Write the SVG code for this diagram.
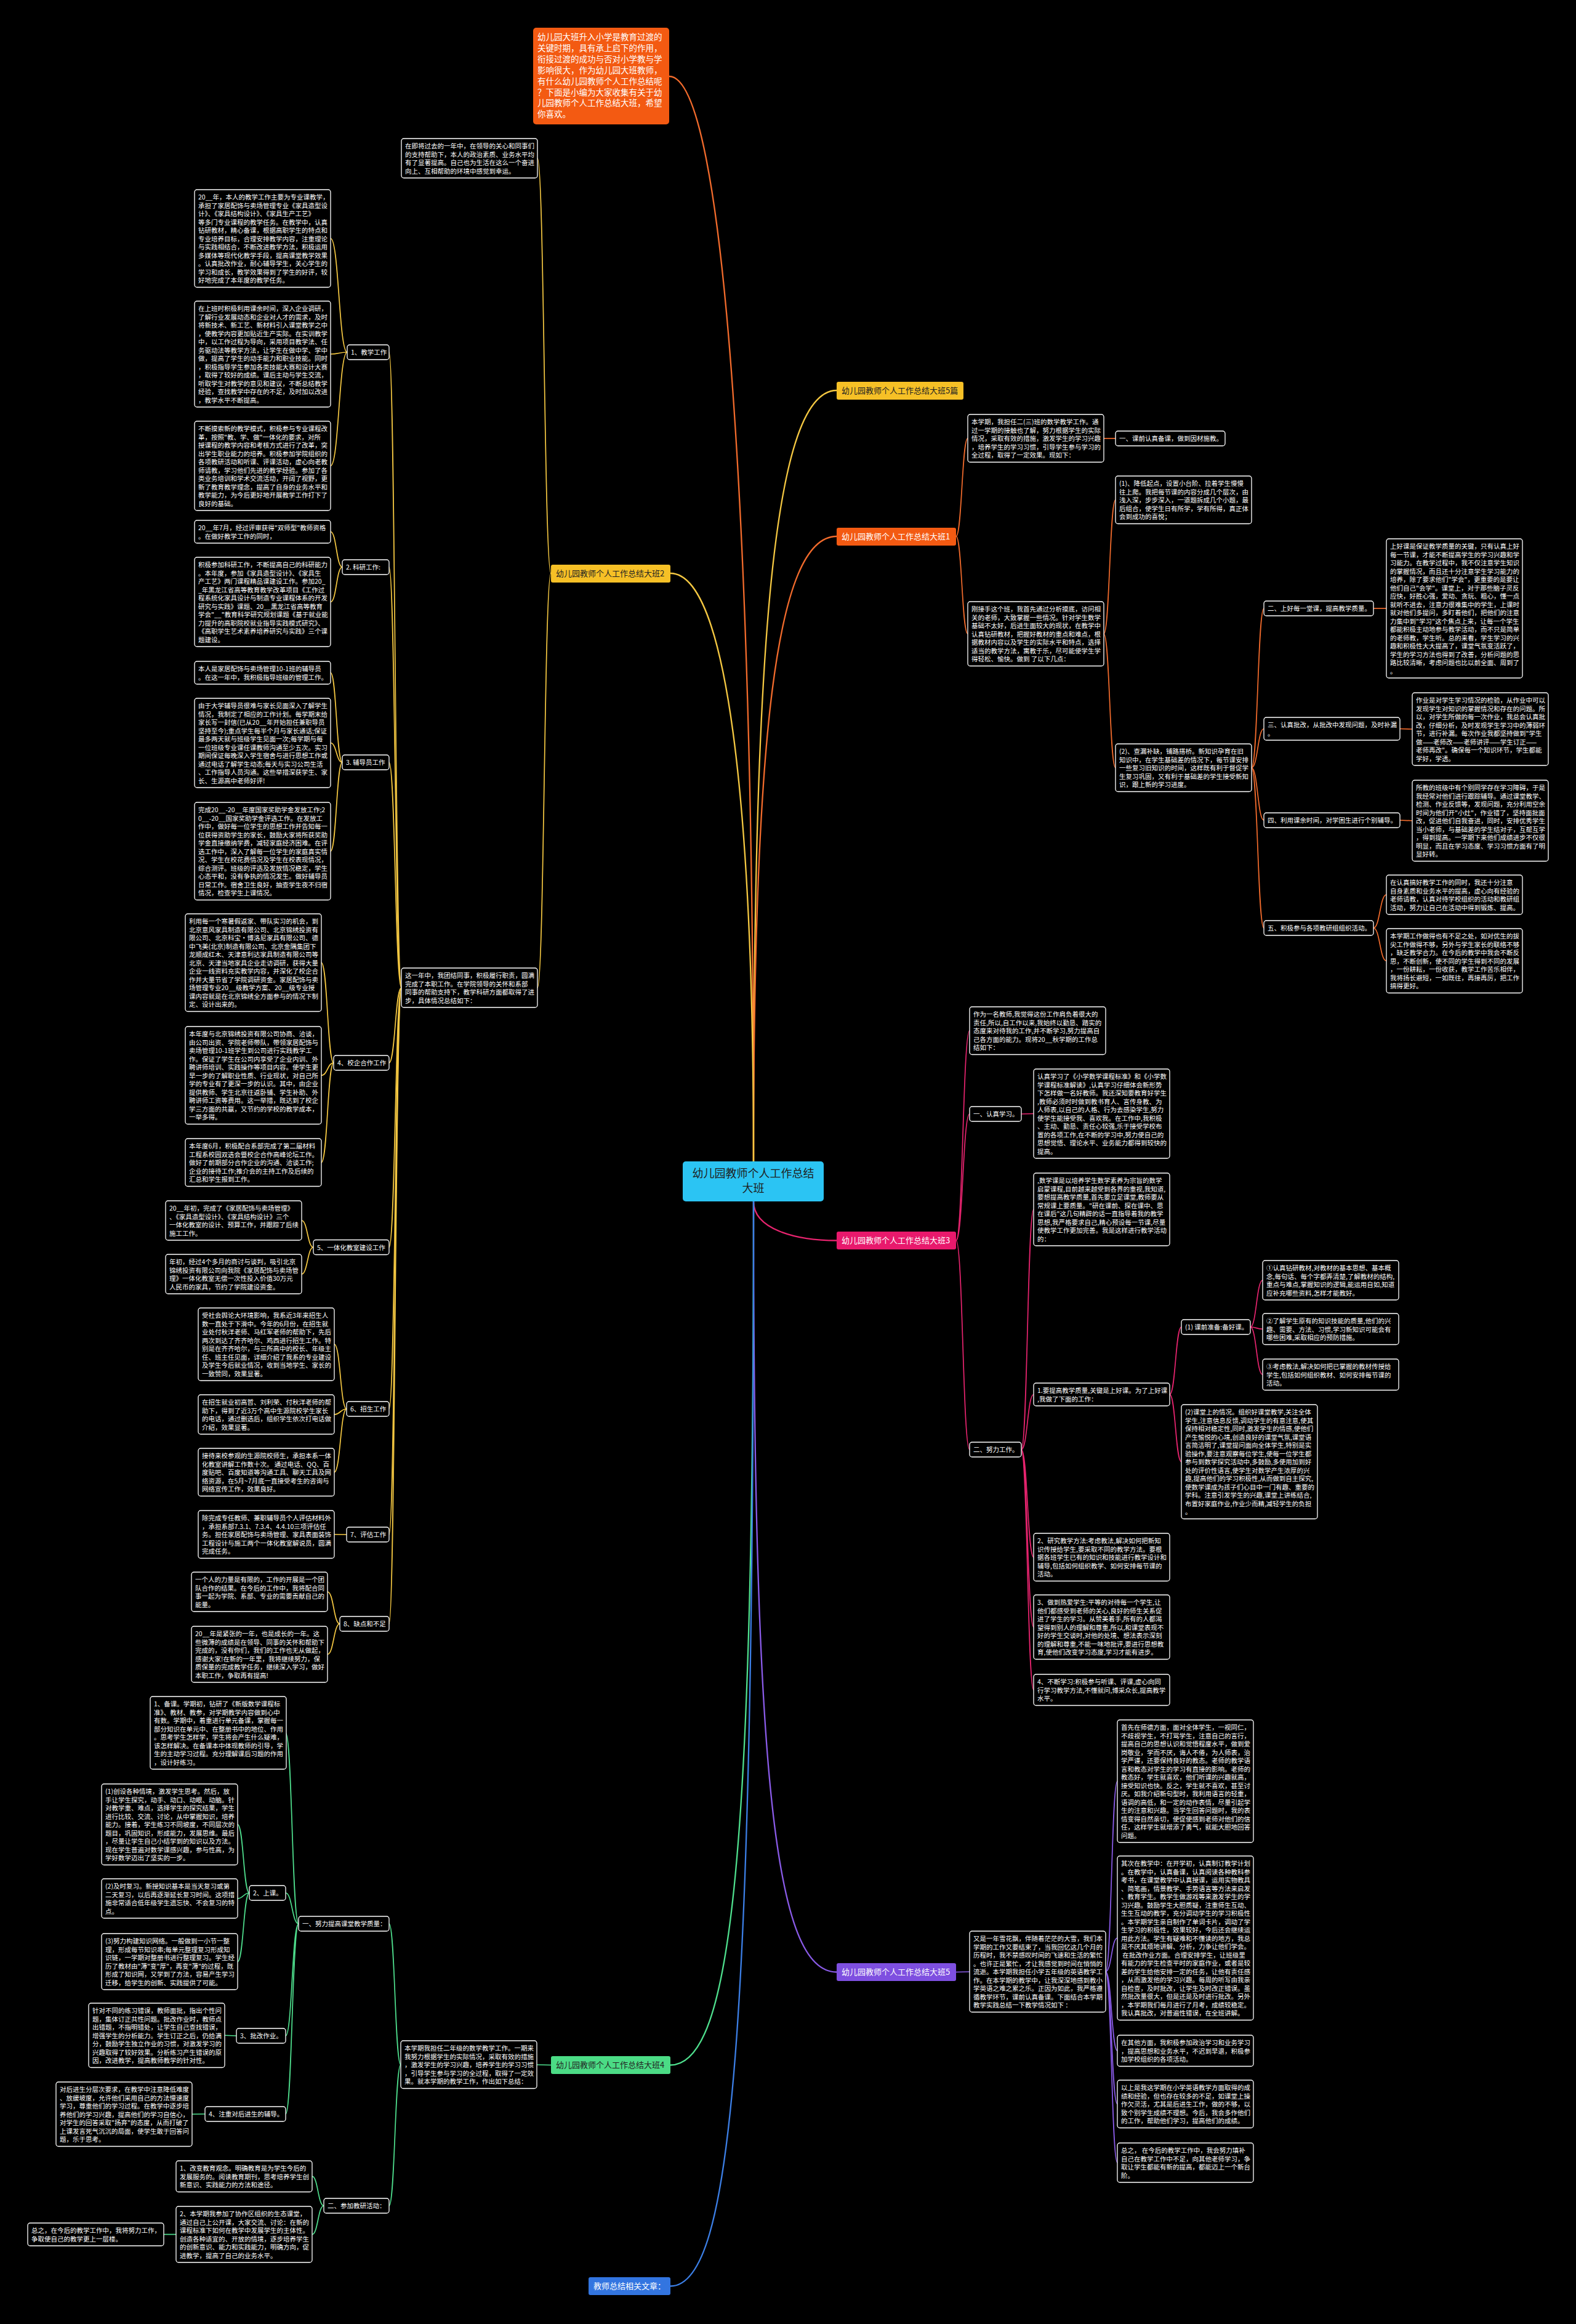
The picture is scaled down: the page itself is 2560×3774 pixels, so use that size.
<svg xmlns="http://www.w3.org/2000/svg" width="2560" height="3774" viewBox="0 0 2560 3774">
<style>
.b{fill:#000;stroke:#fff;stroke-width:1.3}
.t{font-family:"Noto Sans CJK SC","Liberation Sans",sans-serif;font-size:10.5px;fill:#fff}
.lt{font-family:"Noto Sans CJK SC","Liberation Sans",sans-serif;font-size:13px}
#connectors path{fill:none;stroke-width:1.7}
#connectors path.m{stroke-width:2.3}
.y{stroke:#F5C842}.o{stroke:#F26B2C}.p{stroke:#E8246F}.v{stroke:#8A5BE8}.g{stroke:#4FE08E}.bl{stroke:#3C7FE6}
</style>
<rect width="2560" height="3774" fill="#000"/>
<g id="connectors">
<path class="o m" d="M1224,1886 C1224,900 1180,124 1087,124"/>
<path class="y m" d="M1224,1886 C1224,1100 1250,634 1359,634"/>
<path class="o m" d="M1224,1886 C1224,1200 1260,871 1359,871"/>
<path class="y m" d="M1224,1886 C1224,1300 1180,931 1089,931"/>
<path class="p m" d="M1224,1951 C1224,1995 1290,2014.5 1359,2014.5"/>
<path class="v m" d="M1224,1951 C1224,2900 1260,3202.5 1359,3202.5"/>
<path class="g m" d="M1224,1951 C1224,3000 1190,3353.5 1089,3353.5"/>
<path class="bl m" d="M1224,1951 C1224,3300 1190,3712.5 1089,3712.5"/>
<path class="y" d="M895,931 C884,931 884,257 873,257"/>
<path class="y" d="M895,931 C884,931 884,1604 873,1604"/>
<path class="y" d="M652,1604 C642,1604 642,572 632,572"/>
<path class="y" d="M652,1604 C642,1604 642,921 632,921"/>
<path class="y" d="M652,1604 C642,1604 642,1238 632,1238"/>
<path class="y" d="M652,1604 C642,1604 642,1726 632,1726"/>
<path class="y" d="M652,1604 C642,1604 642,2025.5 632,2025.5"/>
<path class="y" d="M652,1604 C642,1604 642,2288 632,2288"/>
<path class="y" d="M652,1604 C642,1604 642,2492 632,2492"/>
<path class="y" d="M652,1604 C642,1604 642,2637 632,2637"/>
<path class="y" d="M564,572 C550.5,572 550.5,387.25 537,387.25"/>
<path class="y" d="M564,572 C550.5,572 550.5,575 537,575"/>
<path class="y" d="M564,572 C550.5,572 550.5,756.5 537,756.5"/>
<path class="y" d="M556,921 C546.5,921 546.5,863.5 537,863.5"/>
<path class="y" d="M556,921 C546.5,921 546.5,977.5 537,977.5"/>
<path class="y" d="M556,1238 C546.5,1238 546.5,1092.5 537,1092.5"/>
<path class="y" d="M556,1238 C546.5,1238 546.5,1206.5 537,1206.5"/>
<path class="y" d="M556,1238 C546.5,1238 546.5,1382.25 537,1382.25"/>
<path class="y" d="M542,1726 C532,1726 532,1563.25 522,1563.25"/>
<path class="y" d="M542,1726 C532,1726 532,1746.25 522,1746.25"/>
<path class="y" d="M542,1726 C532,1726 532,1887.75 522,1887.75"/>
<path class="y" d="M509,2025.5 C499.5,2025.5 499.5,1982 490,1982"/>
<path class="y" d="M509,2025.5 C499.5,2025.5 499.5,2069 490,2069"/>
<path class="y" d="M563,2288 C553,2288 553,2183 543,2183"/>
<path class="y" d="M563,2288 C553,2288 553,2297 543,2297"/>
<path class="y" d="M563,2288 C553,2288 553,2390.75 543,2390.75"/>
<path class="y" d="M563,2492 L543,2491.75"/>
<path class="y" d="M552,2637 C542,2637 542,2585 532,2585"/>
<path class="y" d="M552,2637 C542,2637 542,2686.5 532,2686.5"/>
<path class="o" d="M1553,871 C1562.5,871 1562.5,711.75 1572,711.75"/>
<path class="o" d="M1553,871 C1562.5,871 1562.5,1029.25 1572,1029.25"/>
<path class="o" d="M1793,712 L1812,712"/>
<path class="o" d="M1793,1029.25 C1802.5,1029.25 1802.5,811.75 1812,811.75"/>
<path class="o" d="M1793,1029.25 C1802.5,1029.25 1802.5,1246.75 1812,1246.75"/>
<path class="o" d="M2033,1246.75 C2043,1246.75 2043,988 2053,988"/>
<path class="o" d="M2033,1246.75 C2043,1246.75 2043,1183.5 2053,1183.5"/>
<path class="o" d="M2033,1246.75 C2043,1246.75 2043,1332 2053,1332"/>
<path class="o" d="M2033,1246.75 C2043,1246.75 2043,1507 2053,1507"/>
<path class="o" d="M2231,988 L2252,988"/>
<path class="o" d="M2274,1183.5 L2294,1184"/>
<path class="o" d="M2274,1332 L2294,1332.75"/>
<path class="o" d="M2231,1507 C2241.5,1507 2241.5,1453 2252,1453"/>
<path class="o" d="M2231,1507 C2241.5,1507 2241.5,1560.25 2252,1560.25"/>
<path class="p" d="M1553,2014.5 C1564,2014.5 1564,1673.75 1575,1673.75"/>
<path class="p" d="M1553,2014.5 C1564,2014.5 1564,1809 1575,1809"/>
<path class="p" d="M1553,2014.5 C1564,2014.5 1564,2354 1575,2354"/>
<path class="p" d="M1659,1809 L1679,1808.5"/>
<path class="p" d="M1659,2354 C1669,2354 1669,1964 1679,1964"/>
<path class="p" d="M1659,2354 C1669,2354 1669,2264.5 1679,2264.5"/>
<path class="p" d="M1659,2354 C1669,2354 1669,2528.75 1679,2528.75"/>
<path class="p" d="M1659,2354 C1669,2354 1669,2642.25 1679,2642.25"/>
<path class="p" d="M1659,2354 C1669,2354 1669,2744.25 1679,2744.25"/>
<path class="p" d="M1900,2264.5 C1909.5,2264.5 1909.5,2155 1919,2155"/>
<path class="p" d="M1900,2264.5 C1909.5,2264.5 1909.5,2373.75 1919,2373.75"/>
<path class="p" d="M2031,2155 C2041,2155 2041,2079 2051,2079"/>
<path class="p" d="M2031,2155 C2041,2155 2041,2158.25 2051,2158.25"/>
<path class="p" d="M2031,2155 C2041,2155 2041,2232.25 2051,2232.25"/>
<path class="v" d="M1553,3202.5 L1575,3202"/>
<path class="v" d="M1796,3201.75 C1805.5,3201.75 1805.5,2892.5 1815,2892.5"/>
<path class="v" d="M1796,3201.75 C1805.5,3201.75 1805.5,3147.25 1815,3147.25"/>
<path class="v" d="M1796,3201.75 C1805.5,3201.75 1805.5,3330.25 1815,3330.25"/>
<path class="v" d="M1796,3201.75 C1805.5,3201.75 1805.5,3416.75 1815,3416.75"/>
<path class="v" d="M1796,3201.75 C1805.5,3201.75 1805.5,3512 1815,3512"/>
<path class="g" d="M895,3353.5 L872,3353"/>
<path class="g" d="M651,3353 C641.5,3353 641.5,3124 632,3124"/>
<path class="g" d="M651,3353 C641.5,3353 641.5,3582 632,3582"/>
<path class="g" d="M485,3124 C474.5,3124 474.5,2814 464,2814"/>
<path class="g" d="M485,3124 C474.5,3124 474.5,3074 464,3074"/>
<path class="g" d="M485,3124 C474.5,3124 474.5,3306 464,3306"/>
<path class="g" d="M485,3124 C474.5,3124 474.5,3433 464,3433"/>
<path class="g" d="M405,3074 C395.5,3074 395.5,2962.75 386,2962.75"/>
<path class="g" d="M405,3074 C395.5,3074 395.5,3083 386,3083"/>
<path class="g" d="M405,3074 C395.5,3074 395.5,3185.5 386,3185.5"/>
<path class="g" d="M384,3306 L365,3305.25"/>
<path class="g" d="M333,3433 L312,3433.25"/>
<path class="g" d="M526,3582 C516.5,3582 516.5,3534.25 507,3534.25"/>
<path class="g" d="M526,3582 C516.5,3582 516.5,3628.5 507,3628.5"/>
<path class="g" d="M286,3628.5 L266,3628.5"/>
</g>

<g id="center"><rect x="1109" y="1886" width="229" height="65" rx="5" fill="#2BC4F3"/><text x="1223.5" y="1912" text-anchor="middle" font-family="Noto Sans CJK SC, sans-serif" font-size="18" fill="#1e1e1e">幼儿园教师个人工作总结<tspan x="1223.5" dy="24">大班</tspan></text></g>

<g id="intro"><rect x="866" y="45" width="221" height="157" rx="5" fill="#F35A12"/><text font-family="Noto Sans CJK SC, sans-serif" font-size="13.5" fill="#fff" x="873" y="65"><tspan x="873">幼儿园大班升入小学是教育过渡的</tspan><tspan x="873" dy="17.9">关键时期，具有承上启下的作用，</tspan><tspan x="873" dy="17.9">衔接过渡的成功与否对小学教与学</tspan><tspan x="873" dy="17.9">影响很大，作为幼儿园大班教师，</tspan><tspan x="873" dy="17.9">有什么幼儿园教师个人工作总结呢</tspan><tspan x="873" dy="17.9">？下面是小编为大家收集有关于幼</tspan><tspan x="873" dy="17.9">儿园教师个人工作总结大班，希望</tspan><tspan x="873" dy="17.9">你喜欢。</tspan></text></g>

<g id="b5p"><rect x="1359" y="620" width="206" height="29" rx="3" fill="#F6C026"/><text class="lt" x="1367" y="639" fill="#222">幼儿园教师个人工作总结大班5篇</text></g>
<g id="b1"><rect x="1359" y="857" width="194" height="29" rx="3" fill="#F35A12"/><text class="lt" x="1367" y="876" fill="#fff">幼儿园教师个人工作总结大班1</text></g>
<g id="b2"><rect x="895" y="917" width="194" height="29" rx="3" fill="#F6C026"/><text class="lt" x="903" y="936" fill="#222">幼儿园教师个人工作总结大班2</text></g>
<g id="b3"><rect x="1359" y="2000" width="194" height="29" rx="3" fill="#E8196C"/><text class="lt" x="1367" y="2019" fill="#fff">幼儿园教师个人工作总结大班3</text></g>
<g id="b5"><rect x="1359" y="3188" width="194" height="29" rx="3" fill="#7E4FE0"/><text class="lt" x="1367" y="3207" fill="#fff">幼儿园教师个人工作总结大班5</text></g>
<g id="b4"><rect x="895" y="3339" width="194" height="29" rx="3" fill="#4BDB85"/><text class="lt" x="903" y="3358" fill="#222">幼儿园教师个人工作总结大班4</text></g>
<g id="b6"><rect x="956" y="3698" width="133" height="29" rx="3" fill="#3375E0"/><text class="lt" x="964" y="3717" fill="#fff">教师总结相关文章：</text></g>

<g id="b2_a"><rect class="b" x="652" y="225" width="221" height="64" rx="4"/><text class="t" x="658" y="241"><tspan x="658">在即将过去的一年中，在领导的关心和同事们</tspan><tspan x="658" dy="13.5">的支持帮助下，本人的政治素质、业务水平均</tspan><tspan x="658" dy="13.5">有了显著提高。自己也为生活在这么一个奋进</tspan><tspan x="658" dy="13.5">向上、互相帮助的环境中感觉到幸运。</tspan></text></g>
<g id="b2_b"><rect class="b" x="652" y="1572" width="221" height="64" rx="4"/><text class="t" x="658" y="1588"><tspan x="658">这一年中，我团结同事，积极履行职责，圆满</tspan><tspan x="658" dy="13.5">完成了本职工作。在学院领导的关怀和系部</tspan><tspan x="658" dy="13.5">同事的帮助支持下，教学科研方面都取得了进</tspan><tspan x="658" dy="13.5">步，具体情况总结如下：</tspan></text></g>

<g id="s1"><rect class="b" x="564" y="560" width="68" height="24" rx="4"/><text class="t" x="570" y="576">1、教学工作</text></g>
<g id="s2"><rect class="b" x="556" y="909" width="76" height="24" rx="4"/><text class="t" x="562" y="925">2. 科研工作:</text></g>
<g id="s3"><rect class="b" x="556" y="1226" width="76" height="24" rx="4"/><text class="t" x="562" y="1242">3. 辅导员工作</text></g>
<g id="s4"><rect class="b" x="542" y="1714" width="90" height="24" rx="4"/><text class="t" x="548" y="1730">4、校企合作工作</text></g>
<g id="s5"><rect class="b" x="509" y="2013.5" width="123" height="24" rx="4"/><text class="t" x="515" y="2029.5">5、一体化教室建设工作</text></g>
<g id="s6"><rect class="b" x="563" y="2276" width="69" height="24" rx="4"/><text class="t" x="569" y="2292">6、招生工作</text></g>
<g id="s7"><rect class="b" x="563" y="2480" width="69" height="24" rx="4"/><text class="t" x="569" y="2496">7、评估工作</text></g>
<g id="s8"><rect class="b" x="552" y="2625" width="80" height="24" rx="4"/><text class="t" x="558" y="2641">8、缺点和不足</text></g>

<g id="s1_a"><rect class="b" x="316" y="308" width="221" height="158.5" rx="4"/><text class="t" x="322" y="324"><tspan x="322">20__年，本人的教学工作主要为专业课教学，</tspan><tspan x="322" dy="13.5">承担了家居配饰与卖场管理专业《家具造型设</tspan><tspan x="322" dy="13.5">计》、《家具结构设计》、《家具生产工艺》</tspan><tspan x="322" dy="13.5">等多门专业课程的教学任务。在教学中，认真</tspan><tspan x="322" dy="13.5">钻研教材，精心备课，根据高职学生的特点和</tspan><tspan x="322" dy="13.5">专业培养目标，合理安排教学内容，注重理论</tspan><tspan x="322" dy="13.5">与实践相结合，不断改进教学方法，积极运用</tspan><tspan x="322" dy="13.5">多媒体等现代化教学手段，提高课堂教学效果</tspan><tspan x="322" dy="13.5">。认真批改作业，耐心辅导学生，关心学生的</tspan><tspan x="322" dy="13.5">学习和成长，教学效果得到了学生的好评，较</tspan><tspan x="322" dy="13.5">好地完成了本年度的教学任务。</tspan></text></g>
<g id="s1_b"><rect class="b" x="316" y="489" width="221" height="172" rx="4"/><text class="t" x="322" y="505"><tspan x="322">在上班时积极利用课余时间，深入企业调研，</tspan><tspan x="322" dy="13.5">了解行业发展动态和企业对人才的需求，及时</tspan><tspan x="322" dy="13.5">将新技术、新工艺、新材料引入课堂教学之中</tspan><tspan x="322" dy="13.5">，使教学内容更加贴近生产实际。在实训教学</tspan><tspan x="322" dy="13.5">中，以工作过程为导向，采用项目教学法、任</tspan><tspan x="322" dy="13.5">务驱动法等教学方法，让学生在做中学、学中</tspan><tspan x="322" dy="13.5">做，提高了学生的动手能力和职业技能。同时</tspan><tspan x="322" dy="13.5">，积极指导学生参加各类技能大赛和设计大赛</tspan><tspan x="322" dy="13.5">，取得了较好的成绩。课后主动与学生交流，</tspan><tspan x="322" dy="13.5">听取学生对教学的意见和建议，不断总结教学</tspan><tspan x="322" dy="13.5">经验，查找教学中存在的不足，及时加以改进</tspan><tspan x="322" dy="13.5">，教学水平不断提高。</tspan></text></g>
<g id="s1_c"><rect class="b" x="316" y="684" width="221" height="145" rx="4"/><text class="t" x="322" y="700"><tspan x="322">不断摸索新的教学模式，积极参与专业课程改</tspan><tspan x="322" dy="13.5">革，按照"教、学、做"一体化的要求，对所</tspan><tspan x="322" dy="13.5">授课程的教学内容和考核方式进行了改革，突</tspan><tspan x="322" dy="13.5">出学生职业能力的培养。积极参加学院组织的</tspan><tspan x="322" dy="13.5">各项教研活动和听课、评课活动，虚心向老教</tspan><tspan x="322" dy="13.5">师请教，学习他们先进的教学经验。参加了各</tspan><tspan x="322" dy="13.5">类业务培训和学术交流活动，开阔了视野，更</tspan><tspan x="322" dy="13.5">新了教育教学理念，提高了自身的业务水平和</tspan><tspan x="322" dy="13.5">教学能力，为今后更好地开展教学工作打下了</tspan><tspan x="322" dy="13.5">良好的基础。</tspan></text></g>

<g id="s2_a"><rect class="b" x="316" y="845" width="221" height="37" rx="4"/><text class="t" x="322" y="861"><tspan x="322">20__年7月，经过评审获得"双师型"教师资格</tspan><tspan x="322" dy="13.5">。在做好教学工作的同时，</tspan></text></g>
<g id="s2_b"><rect class="b" x="316" y="905" width="221" height="145" rx="4"/><text class="t" x="322" y="921"><tspan x="322">积极参加科研工作，不断提高自己的科研能力</tspan><tspan x="322" dy="13.5">。本年度，参加《家具造型设计》、《家具生</tspan><tspan x="322" dy="13.5">产工艺》两门课程精品课建设工作。参加20_</tspan><tspan x="322" dy="13.5">_年黑龙江省高等教育教学改革项目《工作过</tspan><tspan x="322" dy="13.5">程系统化家具设计与制造专业课程体系的开发</tspan><tspan x="322" dy="13.5">研究与实践》课题、20__黑龙江省高等教育</tspan><tspan x="322" dy="13.5">学会"__"教育科学研究规划课题《基于就业能</tspan><tspan x="322" dy="13.5">力提升的高职院校就业指导实践模式研究》、</tspan><tspan x="322" dy="13.5">《高职学生艺术素养培养研究与实践》三个课</tspan><tspan x="322" dy="13.5">题建设。</tspan></text></g>
<g id="s3_a"><rect class="b" x="316" y="1074" width="221" height="37" rx="4"/><text class="t" x="322" y="1090"><tspan x="322">本人是家居配饰与卖场管理10-1班的辅导员</tspan><tspan x="322" dy="13.5">。在这一年中，我积极指导班级的管理工作。</tspan></text></g>
<g id="s3_b"><rect class="b" x="316" y="1134" width="221" height="145" rx="4"/><text class="t" x="322" y="1150"><tspan x="322">由于大学辅导员很难与家长见面深入了解学生</tspan><tspan x="322" dy="13.5">情况，我制定了相应的工作计划。每学期末给</tspan><tspan x="322" dy="13.5">家长写一封信(已从20__年开始担任兼职导员</tspan><tspan x="322" dy="13.5">坚持至今);重点学生每半个月与家长通话;保证</tspan><tspan x="322" dy="13.5">最多两天就与班级学生见面一次;每学期与每</tspan><tspan x="322" dy="13.5">一位班级专业课任课教师沟通至少五次。实习</tspan><tspan x="322" dy="13.5">期间保证每晚深入学生宿舍与进行思想工作或</tspan><tspan x="322" dy="13.5">通过电话了解学生动态;每天与实习公司生活</tspan><tspan x="322" dy="13.5">、工作指导人员沟通。这些举措深获学生、家</tspan><tspan x="322" dy="13.5">长、生源高中老师好评!</tspan></text></g>
<g id="s3_c"><rect class="b" x="316" y="1303" width="221" height="158.5" rx="4"/><text class="t" x="322" y="1319"><tspan x="322">完成20__-20__年度国家奖助学金发放工作;2</tspan><tspan x="322" dy="13.5">0__-20__国家奖助学金评选工作。在发放工</tspan><tspan x="322" dy="13.5">作中，做好每一位学生的思想工作并告知每一</tspan><tspan x="322" dy="13.5">位获得资助学生的家长，鼓励大家将所获奖助</tspan><tspan x="322" dy="13.5">学金直接缴纳学费，减轻家庭经济困难。在评</tspan><tspan x="322" dy="13.5">选工作中，深入了解每一位学生的家庭真实情</tspan><tspan x="322" dy="13.5">况、学生在校花费情况及学生在校表现情况，</tspan><tspan x="322" dy="13.5">综合测评。班级的评选及发放情况稳定，学生</tspan><tspan x="322" dy="13.5">心态平和，没有争执的情况发生。做好辅导员</tspan><tspan x="322" dy="13.5">日常工作。宿舍卫生良好，抽查学生夜不归宿</tspan><tspan x="322" dy="13.5">情况，检查学生上课情况。</tspan></text></g>
<g id="s4_a"><rect class="b" x="301" y="1484" width="221" height="158.5" rx="4"/><text class="t" x="307" y="1500"><tspan x="307">利用每一个寒暑假返家、带队实习的机会，到</tspan><tspan x="307" dy="13.5">北京意风家具制造有限公司、北京锦绣投资有</tspan><tspan x="307" dy="13.5">限公司、北京科宝·博洛尼家具有限公司、德</tspan><tspan x="307" dy="13.5">中飞美(北京)制造有限公司、北京金隅集团下</tspan><tspan x="307" dy="13.5">龙顺成红木、天津意利达家具制造有限公司等</tspan><tspan x="307" dy="13.5">北京、天津当地家具企业走访调研，获得大量</tspan><tspan x="307" dy="13.5">企业一线资料充实教学内容，并深化了校企合</tspan><tspan x="307" dy="13.5">作并大量节省了学院调研资金。家居配饰与卖</tspan><tspan x="307" dy="13.5">场管理专业20__级教学方案、20__级专业授</tspan><tspan x="307" dy="13.5">课内容就是在北京锦绣全方面参与的情况下制</tspan><tspan x="307" dy="13.5">定、设计出来的。</tspan></text></g>
<g id="s4_b"><rect class="b" x="301" y="1667" width="221" height="158.5" rx="4"/><text class="t" x="307" y="1683"><tspan x="307">本年度与北京锦绣投资有限公司协商、洽谈，</tspan><tspan x="307" dy="13.5">由公司出资、学院老师带队，带领家居配饰与</tspan><tspan x="307" dy="13.5">卖场管理10-1班学生到公司进行实践教学工</tspan><tspan x="307" dy="13.5">作。保证了学生在公司内享受了企业内训、外</tspan><tspan x="307" dy="13.5">聘讲师培训、实践操作等项目内容。使学生更</tspan><tspan x="307" dy="13.5">早一步的了解职业性质、行业现状，对自己所</tspan><tspan x="307" dy="13.5">学的专业有了更深一步的认识。其中，由企业</tspan><tspan x="307" dy="13.5">提供教师、学生北京往返卧铺、学生补助、外</tspan><tspan x="307" dy="13.5">聘讲师工资等费用。这一举措，既达到了校企</tspan><tspan x="307" dy="13.5">学三方面的共赢，又节约的学校的教学成本，</tspan><tspan x="307" dy="13.5">一举多得。</tspan></text></g>
<g id="s4_c"><rect class="b" x="301" y="1849" width="221" height="77.5" rx="4"/><text class="t" x="307" y="1865"><tspan x="307">本年度6月，积极配合系部完成了第二届材料</tspan><tspan x="307" dy="13.5">工程系校园双选会暨校企合作高峰论坛工作。</tspan><tspan x="307" dy="13.5">做好了前期部分合作企业的沟通、洽谈工作;</tspan><tspan x="307" dy="13.5">企业的接待工作;推介会的主持工作及后续的</tspan><tspan x="307" dy="13.5">汇总和学生报到工作。</tspan></text></g>
<g id="s5_a"><rect class="b" x="269" y="1950" width="221" height="64" rx="4"/><text class="t" x="275" y="1966"><tspan x="275">20__年初，完成了《家居配饰与卖场管理》</tspan><tspan x="275" dy="13.5">、《家具造型设计》、《家具结构设计》三个</tspan><tspan x="275" dy="13.5">一体化教室的设计、预算工作，并跟踪了后续</tspan><tspan x="275" dy="13.5">施工工作。</tspan></text></g>
<g id="s5_b"><rect class="b" x="269" y="2037" width="221" height="64" rx="4"/><text class="t" x="275" y="2053"><tspan x="275">年初，经过4个多月的商讨与谈判，吸引北京</tspan><tspan x="275" dy="13.5">锦绣投资有限公司向我院《家居配饰与卖场管</tspan><tspan x="275" dy="13.5">理》一体化教室无偿一次性投入价值30万元</tspan><tspan x="275" dy="13.5">人民币的家具，节约了学院建设资金。</tspan></text></g>
<g id="s6_a"><rect class="b" x="322" y="2124" width="221" height="118" rx="4"/><text class="t" x="328" y="2140"><tspan x="328">受社会舆论大环境影响，我系近3年来招生人</tspan><tspan x="328" dy="13.5">数一直处于下滑中。今年的6月份，在招生就</tspan><tspan x="328" dy="13.5">业处付秋洋老师、马红军老师的帮助下，先后</tspan><tspan x="328" dy="13.5">两次到达了齐齐哈尔、鸡西进行招生工作。特</tspan><tspan x="328" dy="13.5">别是在齐齐哈尔，与三所高中的校长、年级主</tspan><tspan x="328" dy="13.5">任、班主任见面，详细介绍了我系的专业建设</tspan><tspan x="328" dy="13.5">及学生今后就业情况，收到当地学生、家长的</tspan><tspan x="328" dy="13.5">一致赞同，效果显著。</tspan></text></g>
<g id="s6_b"><rect class="b" x="322" y="2265" width="221" height="64" rx="4"/><text class="t" x="328" y="2281"><tspan x="328">在招生就业初高哲、刘利荣、付秋洋老师的帮</tspan><tspan x="328" dy="13.5">助下，得到了近3万个高中生源院校学生家长</tspan><tspan x="328" dy="13.5">的电话，通过删选后，组织学生依次打电话做</tspan><tspan x="328" dy="13.5">介绍，效果显著。</tspan></text></g>
<g id="s6_c"><rect class="b" x="322" y="2352" width="221" height="77.5" rx="4"/><text class="t" x="328" y="2368"><tspan x="328">接待来校参观的生源院校师生，承担本系一体</tspan><tspan x="328" dy="13.5">化教室讲解工作数十次。 通过电话、QQ、百</tspan><tspan x="328" dy="13.5">度贴吧、百度知道等沟通工具、聊天工具及网</tspan><tspan x="328" dy="13.5">络资源，在5月~7月底一直接受考生的咨询与</tspan><tspan x="328" dy="13.5">网络宣传工作，效果良好。</tspan></text></g>
<g id="s7_a"><rect class="b" x="322" y="2453" width="221" height="77.5" rx="4"/><text class="t" x="328" y="2469"><tspan x="328">除完成专任教师、兼职辅导员个人评估材料外</tspan><tspan x="328" dy="13.5">，承担系部7.3.1、7.3.4、4.4.10三项评估任</tspan><tspan x="328" dy="13.5">务。担任家居配饰与卖场管理、家具表面装饰</tspan><tspan x="328" dy="13.5">工程设计与施工两个一体化教室解说员，圆满</tspan><tspan x="328" dy="13.5">完成任务。</tspan></text></g>
<g id="s8_a"><rect class="b" x="311" y="2553" width="221" height="64" rx="4"/><text class="t" x="317" y="2569"><tspan x="317">一个人的力量是有限的，工作的开展是一个团</tspan><tspan x="317" dy="13.5">队合作的结果。在今后的工作中，我将配合同</tspan><tspan x="317" dy="13.5">事一起为学院、系部、专业的需要贡献自己的</tspan><tspan x="317" dy="13.5">能量。</tspan></text></g>
<g id="s8_b"><rect class="b" x="311" y="2641" width="221" height="91" rx="4"/><text class="t" x="317" y="2657"><tspan x="317">20__年是紧张的一年，也是成长的一年。这</tspan><tspan x="317" dy="13.5">些微薄的成绩是在领导、同事的关怀和帮助下</tspan><tspan x="317" dy="13.5">完成的，没有你们，我们的工作也无从做起，</tspan><tspan x="317" dy="13.5">感谢大家!在新的一年里，我将继续努力，保</tspan><tspan x="317" dy="13.5">质保量的完成教学任务，继续深入学习，做好</tspan><tspan x="317" dy="13.5">本职工作，争取再有提高!</tspan></text></g>

<g id="b1_a"><rect class="b" x="1572" y="673" width="221" height="77.5" rx="4"/><text class="t" x="1578" y="689"><tspan x="1578">本学期，我担任二(三)班的数学教学工作。通</tspan><tspan x="1578" dy="13.5">过一学期的接触也了解，努力根据学生的实际</tspan><tspan x="1578" dy="13.5">情况，采取有效的措施，激发学生的学习兴趣</tspan><tspan x="1578" dy="13.5">，培养学生的学习习惯，引导学生参与学习的</tspan><tspan x="1578" dy="13.5">全过程，取得了一定效果。现如下：</tspan></text></g>
<g id="b1_a1"><rect class="b" x="1812" y="700" width="178" height="24" rx="4"/><text class="t" x="1818" y="716">一、课前认真备课，做到因材施教。</text></g>
<g id="b1_b"><rect class="b" x="1572" y="977" width="221" height="104.5" rx="4"/><text class="t" x="1578" y="993"><tspan x="1578">刚接手这个班，我首先通过分析摸底，访问相</tspan><tspan x="1578" dy="13.5">关的老师，大致掌握一些情况。针对学生数学</tspan><tspan x="1578" dy="13.5">基础不太好，后进生面较大的现状，在教学中</tspan><tspan x="1578" dy="13.5">认真钻研教材，把握好教材的重点和难点，根</tspan><tspan x="1578" dy="13.5">据教材内容以及学生的实际水平和特点，选择</tspan><tspan x="1578" dy="13.5">适当的教学方法，寓教于乐，尽可能使学生学</tspan><tspan x="1578" dy="13.5">得轻松、愉快。做到 了以下几点：</tspan></text></g>
<g id="b1_b1"><rect class="b" x="1812" y="773" width="221" height="77.5" rx="4"/><text class="t" x="1818" y="789"><tspan x="1818">(1)、降低起点，设置小台阶、拉着学生慢慢</tspan><tspan x="1818" dy="13.5">往上爬。我把每节课的内容分成几个层次，由</tspan><tspan x="1818" dy="13.5">浅入深，步步深入，一道题拆成几个小题，最</tspan><tspan x="1818" dy="13.5">后组合，使学生日有所学，学有所得，真正体</tspan><tspan x="1818" dy="13.5">会到成功的喜悦；</tspan></text></g>
<g id="b1_b2"><rect class="b" x="1812" y="1208" width="221" height="77.5" rx="4"/><text class="t" x="1818" y="1224"><tspan x="1818">(2)、查漏补缺，铺路搭桥。新知识孕育在旧</tspan><tspan x="1818" dy="13.5">知识中，在学生基础差的情况下，每节课安排</tspan><tspan x="1818" dy="13.5">一些复习旧知识的时间，这样既有利于督促学</tspan><tspan x="1818" dy="13.5">生复习巩固，又有利于基础差的学生接受新知</tspan><tspan x="1818" dy="13.5">识，跟上新的学习进度。</tspan></text></g>
<g id="b1_q2"><rect class="b" x="2053" y="976" width="178" height="24" rx="4"/><text class="t" x="2059" y="992">二、上好每一堂课，提高教学质量。</text></g>
<g id="b1_q2a"><rect class="b" x="2252" y="875" width="221" height="226" rx="4"/><text class="t" x="2258" y="891"><tspan x="2258">上好课是保证教学质量的关键，只有认真上好</tspan><tspan x="2258" dy="13.5">每一节课，才能不断提高学生的学习兴趣和学</tspan><tspan x="2258" dy="13.5">习能力。在教学过程中，我不仅注意学生知识</tspan><tspan x="2258" dy="13.5">的掌握情况，而且还十分注意学生学习能力的</tspan><tspan x="2258" dy="13.5">培养，除了要求他们"学会"，更重要的是要让</tspan><tspan x="2258" dy="13.5">他们自己"会学"。课堂上，对于那些脑子灵反</tspan><tspan x="2258" dy="13.5">应快，好胜心强，爱动、贪玩、粗心，懂一点</tspan><tspan x="2258" dy="13.5">就听不进去，注意力很难集中的学生，上课时</tspan><tspan x="2258" dy="13.5">就对他们多提问，多盯着他们，把他们的注意</tspan><tspan x="2258" dy="13.5">力集中到"学习"这个焦点上来，让每一个学生</tspan><tspan x="2258" dy="13.5">都能积极主动地参与教学活动，而不只是简单</tspan><tspan x="2258" dy="13.5">的老师教，学生听。总的来看，学生学习的兴</tspan><tspan x="2258" dy="13.5">趣和积极性大大提高了，课堂气氛变活跃了，</tspan><tspan x="2258" dy="13.5">学生的学习方法也得到了改善，分析问题的思</tspan><tspan x="2258" dy="13.5">路比较清晰，考虑问题也比以前全面、周到了</tspan><tspan x="2258" dy="13.5">。</tspan></text></g>
<g id="b1_q3"><rect class="b" x="2053" y="1165" width="221" height="37" rx="4"/><text class="t" x="2059" y="1181"><tspan x="2059">三、认真批改，从批改中发现问题，及时补漏</tspan><tspan x="2059" dy="13.5">。</tspan></text></g>
<g id="b1_q3a"><rect class="b" x="2294" y="1125" width="221" height="118" rx="4"/><text class="t" x="2300" y="1141"><tspan x="2300">作业是对学生学习情况的检验，从作业中可以</tspan><tspan x="2300" dy="13.5">发现学生对知识的掌握情况和存在的问题。所</tspan><tspan x="2300" dy="13.5">以，对学生所做的每一次作业，我总会认真批</tspan><tspan x="2300" dy="13.5">改，仔细分析，及时发现学生学习中的薄弱环</tspan><tspan x="2300" dy="13.5">节，进行补漏。每次作业我都坚持做到"学生</tspan><tspan x="2300" dy="13.5">做——老师改——老师讲评——学生订正——</tspan><tspan x="2300" dy="13.5">老师再改"。确保每一个知识环节，学生都能</tspan><tspan x="2300" dy="13.5">学好，学透。</tspan></text></g>
<g id="b1_q4"><rect class="b" x="2053" y="1320" width="221" height="24" rx="4"/><text class="t" x="2059" y="1336">四、利用课余时间，对学困生进行个别辅导。</text></g>
<g id="b1_q4a"><rect class="b" x="2294" y="1267" width="221" height="131.5" rx="4"/><text class="t" x="2300" y="1283"><tspan x="2300">所教的班级中有个别同学存在学习障碍，于是</tspan><tspan x="2300" dy="13.5">我经常对他们进行跟踪辅导。通过课堂教学、</tspan><tspan x="2300" dy="13.5">检测、作业反馈等，发现问题，充分利用空余</tspan><tspan x="2300" dy="13.5">时间为他们开"小灶"，作业错了，坚持面批面</tspan><tspan x="2300" dy="13.5">改，促进他们自我奋进，同时，安排优秀学生</tspan><tspan x="2300" dy="13.5">当小老师，与基础差的学生结对子，互帮互学</tspan><tspan x="2300" dy="13.5">，得到提高。一学期下来他们成绩进步不仅很</tspan><tspan x="2300" dy="13.5">明显，而且在学习态度、学习习惯方面有了明</tspan><tspan x="2300" dy="13.5">显好转。</tspan></text></g>
<g id="b1_q5"><rect class="b" x="2053" y="1495" width="178" height="24" rx="4"/><text class="t" x="2059" y="1511">五、积极参与各项教研组组织活动。</text></g>
<g id="b1_q5a"><rect class="b" x="2252" y="1421" width="221" height="64" rx="4"/><text class="t" x="2258" y="1437"><tspan x="2258">在认真搞好教学工作的同时，我还十分注意</tspan><tspan x="2258" dy="13.5">自身素质和业务水平的提高，虚心向有经验的</tspan><tspan x="2258" dy="13.5">老师请教，认真对待学校组织的活动和教研组</tspan><tspan x="2258" dy="13.5">活动，努力让自己在活动中得到锻炼、提高。</tspan></text></g>
<g id="b1_q5b"><rect class="b" x="2252" y="1508" width="221" height="104.5" rx="4"/><text class="t" x="2258" y="1524"><tspan x="2258">本学期工作做得也有不足之处，如对优生的拔</tspan><tspan x="2258" dy="13.5">尖工作做得不够，另外与学生家长的联络不够</tspan><tspan x="2258" dy="13.5">，缺乏教学合力。在今后的教学中我会不断反</tspan><tspan x="2258" dy="13.5">思，不断创新，使不同的学生得到不同的发展</tspan><tspan x="2258" dy="13.5">，一份耕耘，一份收获，教学工作苦乐相伴，</tspan><tspan x="2258" dy="13.5">我将扬长避短，一如既往，再接再厉，把工作</tspan><tspan x="2258" dy="13.5">搞得更好。</tspan></text></g>

<g id="b3_a"><rect class="b" x="1575" y="1635" width="221" height="77.5" rx="4"/><text class="t" x="1581" y="1651"><tspan x="1581">作为一名教师,我觉得这份工作肩负着很大的</tspan><tspan x="1581" dy="13.5">责任,所以,自工作以来,我始终以勤恳、踏实的</tspan><tspan x="1581" dy="13.5">态度来对待我的工作,并不断学习,努力提高自</tspan><tspan x="1581" dy="13.5">己各方面的能力。现将20__秋学期的工作总</tspan><tspan x="1581" dy="13.5">结如下：</tspan></text></g>
<g id="b3_b"><rect class="b" x="1575" y="1797" width="84" height="24" rx="4"/><text class="t" x="1581" y="1813">一、认真学习。</text></g>
<g id="b3_b1"><rect class="b" x="1679" y="1736" width="221" height="145" rx="4"/><text class="t" x="1685" y="1752"><tspan x="1685">认真学习了《小学数学课程标准》和《小学数</tspan><tspan x="1685" dy="13.5">学课程标准解读》,认真学习仔细体会新形势</tspan><tspan x="1685" dy="13.5">下怎样做一名好教师。我还深知要教育好学生</tspan><tspan x="1685" dy="13.5">,教师必须时时做到教书育人、言传身教、为</tspan><tspan x="1685" dy="13.5">人师表,以自己的人格、行为去感染学生,努力</tspan><tspan x="1685" dy="13.5">使学生能接受我、喜欢我。在工作中,我积极</tspan><tspan x="1685" dy="13.5">、主动、勤恳、责任心较强,乐于接受学校布</tspan><tspan x="1685" dy="13.5">置的各项工作,在不断的学习中,努力使自己的</tspan><tspan x="1685" dy="13.5">思想觉悟、理论水平、业务能力都得到较快的</tspan><tspan x="1685" dy="13.5">提高。</tspan></text></g>
<g id="b3_c"><rect class="b" x="1575" y="2342" width="84" height="24" rx="4"/><text class="t" x="1581" y="2358">二、努力工作。</text></g>
<g id="b3_c1"><rect class="b" x="1679" y="1905" width="221" height="118" rx="4"/><text class="t" x="1685" y="1921"><tspan x="1685">,数学课是以培养学生数学素养为宗旨的数学</tspan><tspan x="1685" dy="13.5">启蒙课程,目前越来越受到各界的重视,我知道,</tspan><tspan x="1685" dy="13.5">要想提高教学质量,首先要立足课堂,教师要从</tspan><tspan x="1685" dy="13.5">常规课上要质量。"研在课前、探在课中、思</tspan><tspan x="1685" dy="13.5">在课后"这几句精辟的话一直指导着我的教学</tspan><tspan x="1685" dy="13.5">思想,我严格要求自己,精心预设每一节课,尽量</tspan><tspan x="1685" dy="13.5">使教学工作更加完善。我是这样进行教学活动</tspan><tspan x="1685" dy="13.5">的：</tspan></text></g>
<g id="b3_c2"><rect class="b" x="1679" y="2246" width="221" height="37" rx="4"/><text class="t" x="1685" y="2262"><tspan x="1685">1.要提高教学质量,关键是上好课。为了上好课</tspan><tspan x="1685" dy="13.5">,我做了下面的工作：</tspan></text></g>
<g id="b3_c2a"><rect class="b" x="1919" y="2143" width="112" height="24" rx="4"/><text class="t" x="1925" y="2159">(1) 课前准备:备好课。</text></g>
<g id="b3_c2a1"><rect class="b" x="2051" y="2047" width="221" height="64" rx="4"/><text class="t" x="2057" y="2063"><tspan x="2057">①认真钻研教材,对教材的基本思想、基本概</tspan><tspan x="2057" dy="13.5">念,每句话、每个字都弄清楚,了解教材的结构,</tspan><tspan x="2057" dy="13.5">重点与难点,掌握知识的逻辑,能运用自如,知道</tspan><tspan x="2057" dy="13.5">应补充哪些资料,怎样才能教好。</tspan></text></g>
<g id="b3_c2a2"><rect class="b" x="2051" y="2133" width="221" height="50.5" rx="4"/><text class="t" x="2057" y="2149"><tspan x="2057">②了解学生原有的知识技能的质量,他们的兴</tspan><tspan x="2057" dy="13.5">趣、需要、方法、习惯,学习新知识可能会有</tspan><tspan x="2057" dy="13.5">哪些困难,采取相应的预防措施。</tspan></text></g>
<g id="b3_c2a3"><rect class="b" x="2051" y="2207" width="221" height="50.5" rx="4"/><text class="t" x="2057" y="2223"><tspan x="2057">③考虑教法,解决如何把已掌握的教材传授给</tspan><tspan x="2057" dy="13.5">学生,包括如何组织教材、如何安排每节课的</tspan><tspan x="2057" dy="13.5">活动。</tspan></text></g>
<g id="b3_c2b"><rect class="b" x="1919" y="2281" width="221" height="185.5" rx="4"/><text class="t" x="1925" y="2297"><tspan x="1925">(2)课堂上的情况。组织好课堂教学,关注全体</tspan><tspan x="1925" dy="13.5">学生,注意信息反馈,调动学生的有意注意,使其</tspan><tspan x="1925" dy="13.5">保持相对稳定性,同时,激发学生的情感,使他们</tspan><tspan x="1925" dy="13.5">产生愉悦的心境,创造良好的课堂气氛,课堂语</tspan><tspan x="1925" dy="13.5">言简洁明了,课堂提问面向全体学生,特别是实</tspan><tspan x="1925" dy="13.5">验操作,要注意观察每位学生,使每一位学生都</tspan><tspan x="1925" dy="13.5">参与到数学探究活动中,多鼓励,多使用加到好</tspan><tspan x="1925" dy="13.5">处的评价性语言,使学生对数学产生浓厚的兴</tspan><tspan x="1925" dy="13.5">趣,提高他们的学习积极性,从而做到自主探究,</tspan><tspan x="1925" dy="13.5">使数学课成为孩子们心目中一门有趣、重要的</tspan><tspan x="1925" dy="13.5">学科。注意引发学生的兴趣,课堂上讲练结合,</tspan><tspan x="1925" dy="13.5">布置好家庭作业,作业少而精,减轻学生的负担</tspan><tspan x="1925" dy="13.5">。</tspan></text></g>
<g id="b3_c3"><rect class="b" x="1679" y="2490" width="221" height="77.5" rx="4"/><text class="t" x="1685" y="2506"><tspan x="1685">2、研究教学方法:考虑教法,解决如何把新知</tspan><tspan x="1685" dy="13.5">识传授给学生,要采取不同的教学方法。要根</tspan><tspan x="1685" dy="13.5">据各班学生已有的知识和技能进行教学设计和</tspan><tspan x="1685" dy="13.5">辅导,包括如何组织教学、如何安排每节课的</tspan><tspan x="1685" dy="13.5">活动。</tspan></text></g>
<g id="b3_c4"><rect class="b" x="1679" y="2590" width="221" height="104.5" rx="4"/><text class="t" x="1685" y="2606"><tspan x="1685">3、做到热爱学生:平等的对待每一个学生,让</tspan><tspan x="1685" dy="13.5">他们都感受到老师的关心,良好的师生关系促</tspan><tspan x="1685" dy="13.5">进了学生的学习。从赞美着手,所有的人都渴</tspan><tspan x="1685" dy="13.5">望得到别人的理解和尊重,所以,和课堂表现不</tspan><tspan x="1685" dy="13.5">好的学生交谈时,对他的处境、想法表示深刻</tspan><tspan x="1685" dy="13.5">的理解和尊重,不能一味地批评,要进行思想教</tspan><tspan x="1685" dy="13.5">育,使他们改变学习态度,学习才能有进步。</tspan></text></g>
<g id="b3_c5"><rect class="b" x="1679" y="2719" width="221" height="50.5" rx="4"/><text class="t" x="1685" y="2735"><tspan x="1685">4、不断学习:积极参与听课、评课,虚心向同</tspan><tspan x="1685" dy="13.5">行学习教学方法,不懂就问,博采众长,提高教学</tspan><tspan x="1685" dy="13.5">水平。</tspan></text></g>

<g id="b5_a"><rect class="b" x="1575" y="3136" width="221" height="131.5" rx="4"/><text class="t" x="1581" y="3152"><tspan x="1581">又是一年雪花飘，伴随着茫茫的大雪，我们本</tspan><tspan x="1581" dy="13.5">学期的工作又要结束了，当我回忆这几个月的</tspan><tspan x="1581" dy="13.5">历程时，我不禁感叹时间的飞速和生活的繁忙</tspan><tspan x="1581" dy="13.5">。也许正是繁忙，才让我感觉到时间在悄悄的</tspan><tspan x="1581" dy="13.5">流逝。本学期我担任小学五年级的英语教学工</tspan><tspan x="1581" dy="13.5">作。在本学期的教学中，让我深深地感到教小</tspan><tspan x="1581" dy="13.5">学英语之难之累之乐。正因为如此，我严格遵</tspan><tspan x="1581" dy="13.5">循教学环节，课前认真备课。下面结合本学期</tspan><tspan x="1581" dy="13.5">教学实践总结一下教学情况如下 ：</tspan></text></g>
<g id="b5_a1"><rect class="b" x="1815" y="2793" width="221" height="199" rx="4"/><text class="t" x="1821" y="2809"><tspan x="1821">首先在师德方面，面对全体学生，一视同仁，</tspan><tspan x="1821" dy="13.5">不歧视学生，不打骂学生，注意自己的言行，</tspan><tspan x="1821" dy="13.5">提高自己的思想认识和觉悟程度水平，做到爱</tspan><tspan x="1821" dy="13.5">岗敬业，学而不厌，诲人不倦，为人师表，治</tspan><tspan x="1821" dy="13.5">学严谨，还要保持良好的教态。老师的教学语</tspan><tspan x="1821" dy="13.5">言和教态对学生的学习有直接的影响。老师的</tspan><tspan x="1821" dy="13.5">教态好，学生就喜欢，他们听课的兴趣就高，</tspan><tspan x="1821" dy="13.5">接受知识也快。反之，学生就不喜欢，甚至讨</tspan><tspan x="1821" dy="13.5">厌。如我介绍新句型时，我利用语言的轻重，</tspan><tspan x="1821" dy="13.5">语调的高低，和一定的动作表情，尽量引起学</tspan><tspan x="1821" dy="13.5">生的注意和兴趣。当学生回答问题时，我的表</tspan><tspan x="1821" dy="13.5">情变得自然亲切，使促使感到老师对他们的信</tspan><tspan x="1821" dy="13.5">任，这样学生就增添了勇气，就能大胆地回答</tspan><tspan x="1821" dy="13.5">问题。</tspan></text></g>
<g id="b5_a2"><rect class="b" x="1815" y="3014" width="221" height="266.5" rx="4"/><text class="t" x="1821" y="3030"><tspan x="1821">其次在教学中：在开学初，认真制订教学计划</tspan><tspan x="1821" dy="13.5">。在教学中，认真备课，认真阅读各种教科参</tspan><tspan x="1821" dy="13.5">考书，在课堂教学中认真授课，运用实物教具</tspan><tspan x="1821" dy="13.5">、简笔画，情景教学、手势语言等方法来启发</tspan><tspan x="1821" dy="13.5">、教育学生。教学生做游戏等来激发学生的学</tspan><tspan x="1821" dy="13.5">习兴趣。鼓励学生大胆质疑，注重师生互动、</tspan><tspan x="1821" dy="13.5">生生互动的教学，充分调动学生的学习积极性</tspan><tspan x="1821" dy="13.5">。本学期学生亲自制作了单词卡片，调动了学</tspan><tspan x="1821" dy="13.5">生学习的积极性，效果较好，今后还会继续运</tspan><tspan x="1821" dy="13.5">用此方法。学生有疑难和不懂读的地方，我总</tspan><tspan x="1821" dy="13.5">是不厌其烦地讲解、分析，力争让他们学会。</tspan><tspan x="1821" dy="13.5"> 在批改作业方面。合理安排学生，让班级里</tspan><tspan x="1821" dy="13.5">有能力的学生检查平时的家庭作业，或者是较</tspan><tspan x="1821" dy="13.5">差的学生给他安排一定的任务，让他有责任感</tspan><tspan x="1821" dy="13.5">，从而激发他的学习兴趣。每周的听写由我亲</tspan><tspan x="1821" dy="13.5">自检查，及时批改，让学生及时改正错误。虽</tspan><tspan x="1821" dy="13.5">然批改量很大，但是还是及时进行批改。另外</tspan><tspan x="1821" dy="13.5">，本学期我们每月进行了月考，成绩较稳定。</tspan><tspan x="1821" dy="13.5">我认真批改，对普遍性错误，在全班讲解。</tspan></text></g>
<g id="b5_a3"><rect class="b" x="1815" y="3305" width="221" height="50.5" rx="4"/><text class="t" x="1821" y="3321"><tspan x="1821">在其他方面，我积极参加政治学习和业务学习</tspan><tspan x="1821" dy="13.5">，提高思想和业务水平，不迟到早退，积极参</tspan><tspan x="1821" dy="13.5">加学校组织的各项活动。</tspan></text></g>
<g id="b5_a4"><rect class="b" x="1815" y="3378" width="221" height="77.5" rx="4"/><text class="t" x="1821" y="3394"><tspan x="1821">以上是我这学期在小学英语教学方面取得的成</tspan><tspan x="1821" dy="13.5">绩和经验，但也存在较多的不足，如课堂上操</tspan><tspan x="1821" dy="13.5">作欠灵活，尤其是后进生工作，做的不够，以</tspan><tspan x="1821" dy="13.5">致个别学生成绩不理想。今后，我会多作他们</tspan><tspan x="1821" dy="13.5">的工作，帮助他们学习，提高他们的成绩。</tspan></text></g>
<g id="b5_a5"><rect class="b" x="1815" y="3480" width="221" height="64" rx="4"/><text class="t" x="1821" y="3496"><tspan x="1821">总之， 在今后的教学工作中，我会努力填补</tspan><tspan x="1821" dy="13.5">自己在教学工作中不足，向其他老师学习，争</tspan><tspan x="1821" dy="13.5">取让学生都能有新的提高，都能迈上一个新台</tspan><tspan x="1821" dy="13.5">阶。</tspan></text></g>

<g id="b4_a"><rect class="b" x="651" y="3314" width="221" height="77.5" rx="4"/><text class="t" x="657" y="3330"><tspan x="657">本学期我担任二年级的数学教学工作。一期来</tspan><tspan x="657" dy="13.5">我努力根据学生的实际情况，采取有效的措施</tspan><tspan x="657" dy="13.5">，激发学生的学习兴趣，培养学生的学习习惯</tspan><tspan x="657" dy="13.5">，引导学生参与学习的全过程，取得了一定效</tspan><tspan x="657" dy="13.5">果。就本学期的教学工作，作出如下总结：</tspan></text></g>
<g id="b4_a1"><rect class="b" x="485" y="3112" width="147" height="24" rx="4"/><text class="t" x="491" y="3128">一、努力提高课堂教学质量：</text></g>
<g id="b4_a2"><rect class="b" x="526" y="3570" width="106" height="24" rx="4"/><text class="t" x="532" y="3586">二、参加教研活动：</text></g>
<g id="b4_a1_1"><rect class="b" x="244" y="2755" width="221" height="118" rx="4"/><text class="t" x="250" y="2771"><tspan x="250">1、备课。学期初，钻研了《新版数学课程标</tspan><tspan x="250" dy="13.5">准》、教材、教参，对学期教学内容做到心中</tspan><tspan x="250" dy="13.5">有数。学期中，着重进行单元备课，掌握每一</tspan><tspan x="250" dy="13.5">部分知识在单元中、在整册书中的地位、作用</tspan><tspan x="250" dy="13.5">。思考学生怎样学，学生将会产生什么疑难，</tspan><tspan x="250" dy="13.5">该怎样解决。在备课本中体现教师的引导，学</tspan><tspan x="250" dy="13.5">生的主动学习过程。充分理解课后习题的作用</tspan><tspan x="250" dy="13.5">，设计好练习。</tspan></text></g>
<g id="b4_a1_2"><rect class="b" x="405" y="3062" width="59" height="24" rx="4"/><text class="t" x="411" y="3078">2、上课。</text></g>
<g id="b4_a1_2a"><rect class="b" x="165" y="2897" width="221" height="131.5" rx="4"/><text class="t" x="171" y="2913"><tspan x="171">(1)创设各种情境，激发学生思考。然后，放</tspan><tspan x="171" dy="13.5">手让学生探究，动手、动口、动眼、动脑。针</tspan><tspan x="171" dy="13.5">对教学重、难点，选择学生的探究结果，学生</tspan><tspan x="171" dy="13.5">进行比较、交流、讨论，从中掌握知识，培养</tspan><tspan x="171" dy="13.5">能力。接着，学生练习不同坡度，不同层次的</tspan><tspan x="171" dy="13.5">题目，巩固知识，形成能力，发展思维。最后</tspan><tspan x="171" dy="13.5">，尽量让学生自己小结学到的知识以及方法。</tspan><tspan x="171" dy="13.5">现在学生普遍对数学课感兴趣，参与性高，为</tspan><tspan x="171" dy="13.5">学好数学迈出了坚实的一步。</tspan></text></g>
<g id="b4_a1_2b"><rect class="b" x="165" y="3051" width="221" height="64" rx="4"/><text class="t" x="171" y="3067"><tspan x="171">(2)及时复习。新授知识基本是当天复习或第</tspan><tspan x="171" dy="13.5">二天复习，以后再逐渐延长复习时间。这项措</tspan><tspan x="171" dy="13.5">施非常适合低年级学生遗忘快、不会复习的特</tspan><tspan x="171" dy="13.5">点。</tspan></text></g>
<g id="b4_a1_2c"><rect class="b" x="165" y="3140" width="221" height="91" rx="4"/><text class="t" x="171" y="3156"><tspan x="171">(3)努力构建知识网络。一般做到一小节一整</tspan><tspan x="171" dy="13.5">理，形成每节知识串;每单元整理复习形成知</tspan><tspan x="171" dy="13.5">识链，一学期对整册书进行整理复习。学生经</tspan><tspan x="171" dy="13.5">历了教材由"薄"变"厚"，再变"薄"的过程，既</tspan><tspan x="171" dy="13.5">形成了知识网，又学到了方法，容易产生学习</tspan><tspan x="171" dy="13.5">迁移，给学生的创新、实践提供了可能。</tspan></text></g>
<g id="b4_a1_3"><rect class="b" x="384" y="3294" width="80" height="24" rx="4"/><text class="t" x="390" y="3310">3、批改作业。</text></g>
<g id="b4_a1_3a"><rect class="b" x="144" y="3253" width="221" height="104.5" rx="4"/><text class="t" x="150" y="3269"><tspan x="150">针对不同的练习错误，教师面批，指出个性问</tspan><tspan x="150" dy="13.5">题，集体订正共性问题。批改作业时，教师点</tspan><tspan x="150" dy="13.5">出错题，不指明错处，让学生自己查找错误，</tspan><tspan x="150" dy="13.5">增强学生的分析能力。学生订正之后，仍给满</tspan><tspan x="150" dy="13.5">分，鼓励学生独立作业的习惯，对激发学习的</tspan><tspan x="150" dy="13.5">兴趣取得了较好效果。分析练习产生错误的原</tspan><tspan x="150" dy="13.5">因，改进教学，提高教师教学的针对性。</tspan></text></g>
<g id="b4_a1_4"><rect class="b" x="333" y="3421" width="131" height="24" rx="4"/><text class="t" x="339" y="3437">4、注重对后进生的辅导。</text></g>
<g id="b4_a1_4a"><rect class="b" x="91" y="3381" width="221" height="104.5" rx="4"/><text class="t" x="97" y="3397"><tspan x="97">对后进生分层次要求，在教学中注意降低难度</tspan><tspan x="97" dy="13.5">、放缓坡度，允许他们采用自己的方法慢速度</tspan><tspan x="97" dy="13.5">学习，尊重他们的学习过程。在教学中逐步培</tspan><tspan x="97" dy="13.5">养他们的学习兴趣，提高他们的学习自信心，</tspan><tspan x="97" dy="13.5">对学生的回答采取"扬弃"的态度，从而打破了</tspan><tspan x="97" dy="13.5">上课发言死气沉沉的局面，使学生敢于回答问</tspan><tspan x="97" dy="13.5">题，乐于思考。</tspan></text></g>
<g id="b4_a2_1"><rect class="b" x="286" y="3509" width="221" height="50.5" rx="4"/><text class="t" x="292" y="3525"><tspan x="292">1、改变教育观念。明确教育是为学生今后的</tspan><tspan x="292" dy="13.5">发展服务的。阅读教育期刊，思考培养学生创</tspan><tspan x="292" dy="13.5">新意识、实践能力的方法和途径。</tspan></text></g>
<g id="b4_a2_2"><rect class="b" x="286" y="3583" width="221" height="91" rx="4"/><text class="t" x="292" y="3599"><tspan x="292">2、本学期我参加了协作区组织的生态课堂，</tspan><tspan x="292" dy="13.5">通过自己上公开课，大家交流、讨论：在新的</tspan><tspan x="292" dy="13.5">课程标准下如何在教学中发展学生的主体性。</tspan><tspan x="292" dy="13.5">创造各种适宜的、开放的情境，逐步培养学生</tspan><tspan x="292" dy="13.5">的创新意识、能力和实践能力，明确方向，促</tspan><tspan x="292" dy="13.5">进教学，提高了自己的业务水平。</tspan></text></g>
<g id="b4_a2_2a"><rect class="b" x="45" y="3610" width="221" height="37" rx="4"/><text class="t" x="51" y="3626"><tspan x="51">总之，在今后的教学工作中，我将努力工作，</tspan><tspan x="51" dy="13.5">争取使自己的教学更上一层楼。</tspan></text></g>
</svg>
